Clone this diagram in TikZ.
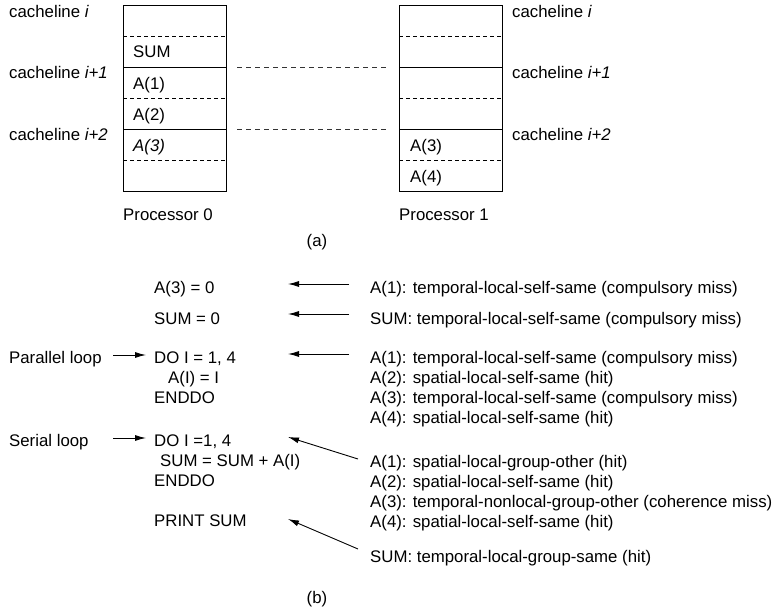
\documentclass[tikz,border=0pt]{standalone}
\usepackage{fontspec}
\setmainfont{Liberation Sans}
\usetikzlibrary{arrows.meta}
\begin{document}
\begin{tikzpicture}[x=1pt,y=-1pt,
  txt/.style={anchor=base west, inner sep=0pt, font=\fontsize{16.8}{20}\selectfont},
  mid/.style={anchor=base, inner sep=0pt, font=\fontsize{16.8}{20}\selectfont},
  cache/.style={draw, line width=1pt, minimum width=103pt, minimum height=186pt,
                inner sep=0pt, anchor=north west},
  rowsep/.style={line width=0.9pt, dash pattern=on 4pt off 3pt},
  rowline/.style={line width=1pt},
  link/.style={line width=0.9pt, dash pattern=on 5pt off 4pt, black!80},
  arr/.style={line width=0.9pt, -{Latex[length=11pt,width=6pt]}},
]
\useasboundingbox (0,0) rectangle (773,610);

% ---------- (a) cache lines of the two processors ----------
\node[cache] (p0) at (123,5) {};
\node[cache] (p1) at (399,5) {};

\foreach \b in {p0,p1}{
  \draw[rowsep]  (\b.west |- 0,36)  -- (\b.east |- 0,36);
  \draw[rowline] (\b.west |- 0,67)  -- (\b.east |- 0,67);
  \draw[rowsep]  (\b.west |- 0,98)  -- (\b.east |- 0,98);
  \draw[rowline] (\b.west |- 0,129) -- (\b.east |- 0,129);
  \draw[rowsep]  (\b.west |- 0,160) -- (\b.east |- 0,160);
}

% contents of the cache lines
\node[txt] (c0sum) at (133,58)  {SUM};
\node[txt] (c0a1)  at (133,89)  {A(1)};
\node[txt] (c0a2)  at (133,120) {A(2)};
\node[txt] (c0a3)  at (133,151) {\textit{A(3)}};
\node[txt] (c1a3)  at (410,151) {A(3)};
\node[txt] (c1a4)  at (410,182) {A(4)};

% line labels
\node[txt] (l0)  at (9,18)    {cacheline \textit{i}};
\node[txt] (l1)  at (9,78)    {cacheline \textit{i+1}};
\node[txt] (l2)  at (9,140)   {cacheline \textit{i+2}};
\node[txt] (r0)  at (512,18)  {cacheline \textit{i}};
\node[txt] (r1)  at (512,78)  {cacheline \textit{i+1}};
\node[txt] (r2)  at (512,140) {cacheline \textit{i+2}};

% dashed links between matching line boundaries
\draw[link] ([xshift=10pt]p0.east |- 0,67)  -- ([xshift=-10pt]p1.west |- 0,67);
\draw[link] ([xshift=10pt]p0.east |- 0,129) -- ([xshift=-10pt]p1.west |- 0,129);

\node[txt] (n0) at (123,220) {Processor 0};
\node[txt] (n1) at (399,220) {Processor 1};
\node[mid] (capa) at (317,246) {(a)};

% ---------- (b) program and reference classification ----------
\node[txt] (s1) at (154,293) {A(3) = 0};
\node[txt] (s2) at (154,324) {SUM = 0};
\node[txt] (s3) at (154,363) {DO I = 1, 4};
\node[txt] (s4) at (168,383) {A(I) = I};
\node[txt] (s5) at (154,403) {ENDDO};
\node[txt] (s6) at (154,446) {DO I =1, 4};
\node[txt] (s7) at (160,466) {SUM = SUM + A(I)};
\node[txt] (s8) at (154,486) {ENDDO};
\node[txt] (s9) at (154,526) {PRINT SUM};

\node[txt] (par) at (9,363) {Parallel loop};
\node[txt] (ser) at (9,446) {Serial loop};

\node[txt] (k1) at (370,293) {A(1): temporal-local-self-same (compulsory miss)};
\node[txt] (k2) at (370,324) {SUM: temporal-local-self-same (compulsory miss)};
\node[txt] (k3) at (370,363) {A(1): temporal-local-self-same (compulsory miss)};
\node[txt] (k4) at (370,383) {A(2): spatial-local-self-same (hit)};
\node[txt] (k5) at (370,403) {A(3): temporal-local-self-same (compulsory miss)};
\node[txt] (k6) at (370,423) {A(4): spatial-local-self-same (hit)};
\node[txt] (k7) at (370,467) {A(1): spatial-local-group-other (hit)};
\node[txt] (k8) at (370,487) {A(2): spatial-local-self-same (hit)};
\node[txt] (k9) at (370,507) {A(3): temporal-nonlocal-group-other (coherence miss)};
\node[txt] (k10) at (370,527) {A(4): spatial-local-self-same (hit)};
\node[txt] (k11) at (370,562) {SUM: temporal-local-group-same (hit)};

\node[mid] (capb) at (317,603) {(b)};

% arrow end points
\coordinate (a1s) at (349,284); \coordinate (a1t) at (288,284);
\coordinate (a2s) at (349,314); \coordinate (a2t) at (288,314);
\coordinate (a3s) at (349,354); \coordinate (a3t) at (288,354);
\coordinate (a4s) at (358,459); \coordinate (a4t) at (288,437);
\coordinate (a5s) at (358,549); \coordinate (a5t) at (288,519);
\coordinate (pls) at (113,355); \coordinate (plt) at (146,355);
\coordinate (sls) at (113,438); \coordinate (slt) at (146,438);

\draw[arr] (a1s) -- (a1t);
\draw[arr] (a2s) -- (a2t);
\draw[arr] (a3s) -- (a3t);
\draw[arr] (a4s) -- (a4t);
\draw[arr] (a5s) -- (a5t);
\draw[arr] (pls) -- (plt);
\draw[arr] (sls) -- (slt);
\end{tikzpicture}
\end{document}
